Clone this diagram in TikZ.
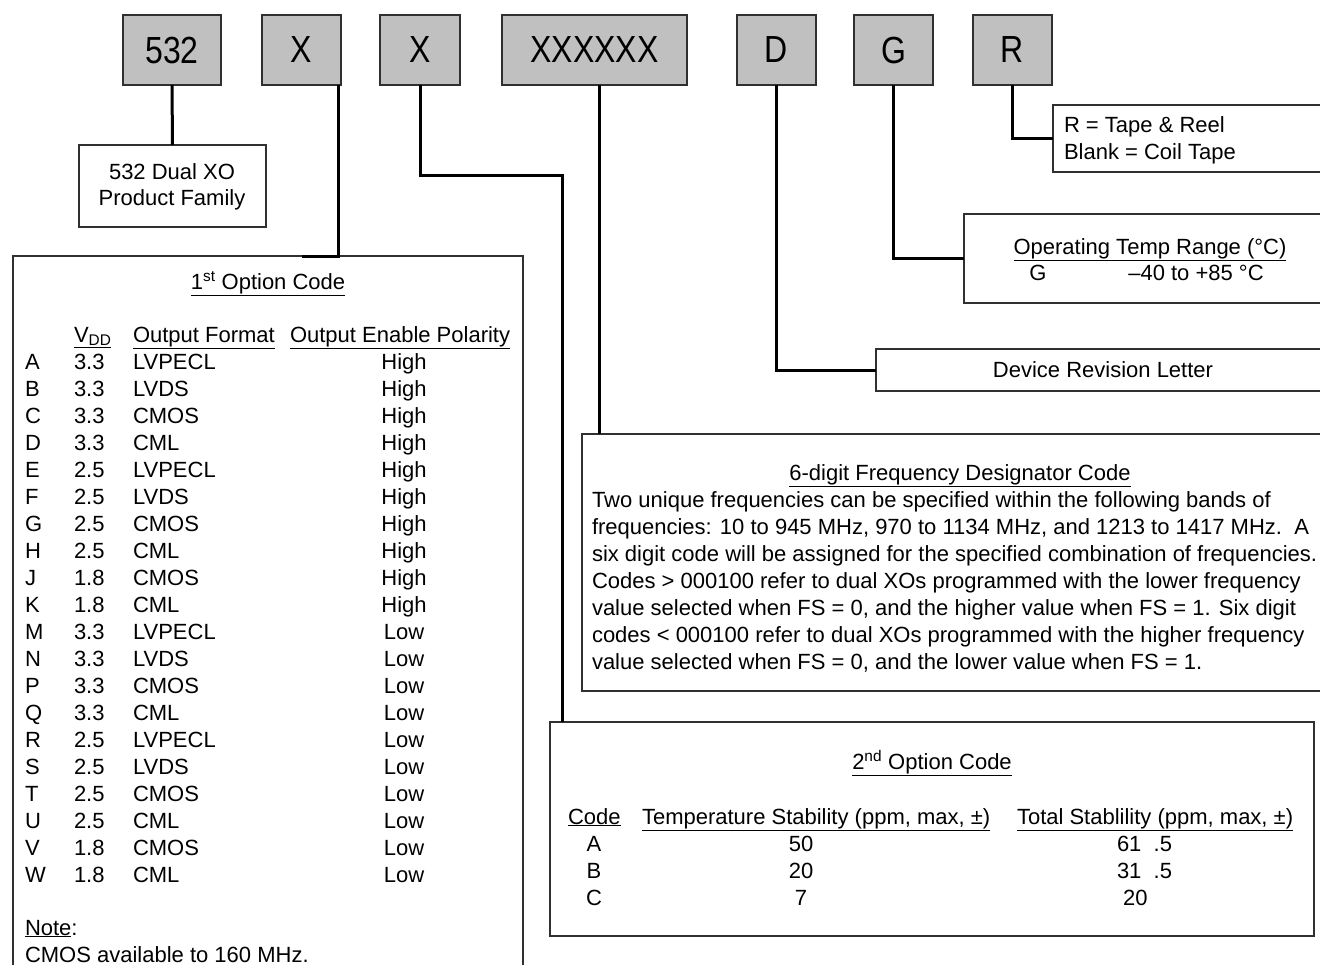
\documentclass[tikz,border=0pt]{standalone}
\usepackage{fontspec}
\usepackage{graphicx}
\setmainfont{Liberation Sans}
\newcommand\myfs{\fontsize{22}{27}\selectfont}
\newcommand\bigfs{\fontsize{32}{36}\selectfont}
\newcommand\tallcode[1]{\scalebox{1}[1.18]{#1}}
\definecolor{boxgray}{HTML}{C0C0C0}
\definecolor{edge}{HTML}{303030}
\begin{document}
\begin{tikzpicture}[x=1pt,y=-1pt,
  codebox/.style={draw=edge,line width=1.2pt,fill=boxgray,inner sep=0pt,outer sep=0pt,font=\bigfs},
  infobox/.style={draw=edge,line width=1.2pt,fill=white,inner sep=0pt,outer sep=0pt},
  txt/.style={inner sep=0pt,outer sep=0pt,font=\myfs},
  link/.style={line width=3pt,draw=black}]
\useasboundingbox (0,0) rectangle (1320,975);
\clip (0,0) rectangle (1320,975);
\fill[white] (0,0) rectangle (1320,975);

% top code boxes
\node[codebox,minimum width=98pt,minimum height=70pt] (b532) at (172,50) {\tallcode{532}};
\node[codebox,minimum width=79pt,minimum height=70pt] (bx1) at (301.5,50) {\tallcode{X}};
\node[codebox,minimum width=80pt,minimum height=70pt] (bx2) at (420,50) {\tallcode{X}};
\node[codebox,minimum width=185pt,minimum height=70pt] (bx6) at (594.5,50) {\tallcode{XXXXXX}};
\node[codebox,minimum width=79pt,minimum height=70pt] (bd) at (776.5,50) {\tallcode{D}};
\node[codebox,minimum width=79pt,minimum height=70pt] (bg) at (893.5,50) {\tallcode{G}};
\node[codebox,minimum width=79pt,minimum height=70pt] (br) at (1012.5,50) {\tallcode{R}};

% info boxes
\node[infobox,minimum width=187pt,minimum height=82pt] (pf) at (172.5,186) {};
\node[txt,anchor=base] (pf1) at (172,179) {532 Dual XO};
\node[txt,anchor=base] (pf2) at (172,205) {Product Family};

\node[infobox,minimum width=277pt,minimum height=67pt] (rn) at (1191.5,138.5) {};
\node[txt,anchor=base west] (rn1) at (1064,132.5) {R = Tape \& Reel};
\node[txt,anchor=base west] (rn2) at (1064,159.5) {Blank = Coil Tape};

\node[infobox,minimum width=366pt,minimum height=89pt] (tr) at (1147,258.5) {};
\node[txt,anchor=base] (tr1) at (1150,254.5) {\underline{Operating Temp Range (°C)}};
\node[txt,anchor=base] (tr2) at (1038,280) {G};
\node[txt,anchor=base] (tr3) at (1196,280) {–40 to +85 °C};

\node[infobox,minimum width=454pt,minimum height=42pt] (dr) at (1103,370) {};
\node[txt,anchor=base] (dr1) at (1103,377) {Device Revision Letter};

\node[infobox,minimum width=748pt,minimum height=257pt] (fq) at (956,562.5) {};
\node[txt,anchor=base] (fqt) at (960,480) {\underline{6-digit Frequency Designator Code}};
\foreach \l [count=\i from 0] in {
  {Two unique frequencies can be specified within the following bands of},
  {frequencies: 10 to 945 MHz, 970 to 1134 MHz, and 1213 to 1417 MHz.\ \ A},
  {six digit code will be assigned for the specified combination of frequencies.},
  {Codes > 000100 refer to dual XOs programmed with the lower frequency},
  {value selected when FS = 0, and the higher value when FS = 1. Six digit},
  {codes < 000100 refer to dual XOs programmed with the higher frequency},
  {value selected when FS = 0, and the lower value when FS = 1.}}
  \node[txt,anchor=base west] (fql\i) at (592,507+27*\i) {\l};

% 2nd option box
\node[infobox,minimum width=764pt,minimum height=214pt] (o2) at (932,829) {};
\node[txt,anchor=base] (o2t) at (932,769) {\underline{2\textsuperscript{nd} Option Code}};
\node[txt,anchor=base west] (o2h1) at (568,824) {\underline{Code}};
\node[txt,anchor=base west] (o2h2) at (642,824) {\underline{Temperature Stability (ppm, max, ±)}};
\node[txt,anchor=base west] (o2h3) at (1017,824) {\underline{Total Stablility (ppm, max, ±)}};
\foreach \c/\t/\s [count=\i from 0] in {A/50/61\ \ .5, B/20/31\ \ .5, C/7/\ 20} {
  \node[txt,anchor=base] (o2c\i) at (594,851+27*\i) {\c};
  \node[txt,anchor=base] (o2s\i) at (801,851+27*\i) {\t};
  \node[txt,anchor=base west] (o2v\i) at (1117,851+27*\i) {\s};
}

% 1st option box (open at the bottom)
\coordinate (o1bl) at (13,965);
\coordinate (o1tl) at (13,256);
\coordinate (o1tr) at (523,256);
\coordinate (o1br) at (523,965);
\draw[draw=edge,line width=1.2pt] (o1bl) -- (o1tl) -- (o1tr) -- (o1br);
\node[txt,anchor=base] (o1t) at (268,289) {\underline{1\textsuperscript{st} Option Code}};
\node[txt,anchor=base west] (o1h1) at (74,342) {\underline{V\textsubscript{DD}}};
\node[txt,anchor=base west] (o1h2) at (133,342) {\underline{Output Format}};
\node[txt,anchor=base west] (o1h3) at (290,342) {\underline{Output Enable Polarity}};
\foreach \c/\v/\f/\p [count=\i from 0] in {
  A/3.3/LVPECL/High, B/3.3/LVDS/High, C/3.3/CMOS/High, D/3.3/CML/High,
  E/2.5/LVPECL/High, F/2.5/LVDS/High, G/2.5/CMOS/High, H/2.5/CML/High,
  J/1.8/CMOS/High, K/1.8/CML/High, M/3.3/LVPECL/Low, N/3.3/LVDS/Low,
  P/3.3/CMOS/Low, Q/3.3/CML/Low, R/2.5/LVPECL/Low, S/2.5/LVDS/Low,
  T/2.5/CMOS/Low, U/2.5/CML/Low, V/1.8/CMOS/Low, W/1.8/CML/Low} {
  \node[txt,anchor=base west] (oc\i) at (25,369+27*\i) {\c};
  \node[txt,anchor=base west] (ov\i) at (74,369+27*\i) {\v};
  \node[txt,anchor=base west] (of\i) at (133,369+27*\i) {\f};
  \node[txt,anchor=base] (op\i) at (404,369+27*\i) {\p};
}
\node[txt,anchor=base west] (n1) at (25,935) {\underline{Note}:};
\node[txt,anchor=base west] (n2) at (25,962) {CMOS available to 160 MHz.};

% connectors
\coordinate (x1a) at (338,85);
\coordinate (x1e) at (302,256);
\draw[link] (x1a) |- (x1e);
\draw[link] (b532.south) -- (pf.north);
\coordinate (x2a) at (420,85);
\coordinate (x2b) at (562,175);
\draw[link] (x2a) |- (x2b) -- (x2b |- o2.north);
\coordinate (x6a) at (599,85);
\draw[link] (x6a) -- (x6a |- fq.north);
\draw[link] (bd.south) |- (dr.west);
\draw[link] (bg.south) |- (tr.west);
\draw[link] (br.south) |- (rn.west);
\end{tikzpicture}
\end{document}
